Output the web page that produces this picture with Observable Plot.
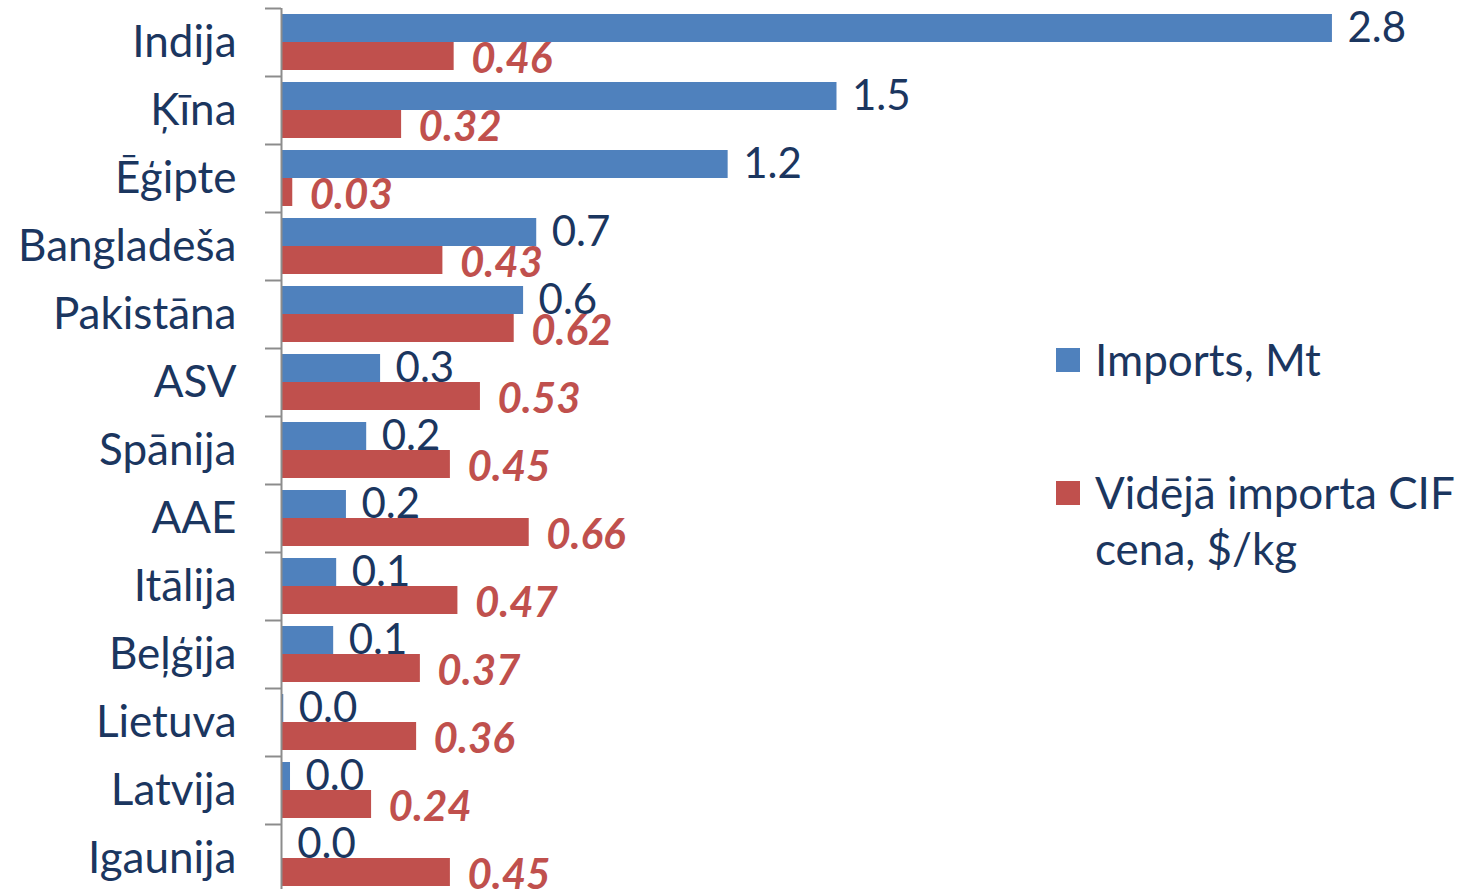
<!DOCTYPE html>
<html>
<head>
<meta charset="utf-8">
<script src="https://cdn.jsdelivr.net/npm/d3@7"></script>
<script src="https://cdn.jsdelivr.net/npm/@observablehq/plot@0.6"></script>
<style>
  html, body { margin: 0; padding: 0; overflow: hidden; background: #fff; }
  #wrap { position: relative; width: 1461px; height: 889px; overflow: hidden; }
  #wrap svg { display: block; }
  .legend { position: absolute; left: 1056px; font-family: Lato, "Open Sans", sans-serif; font-size: 44px; color: #1B365F; line-height: 56px; }
  .legend .item { position: absolute; left: 0; display: flex; align-items: flex-start; white-space: nowrap; }
  .legend .sw { width: 24px; height: 24px; margin-top: 17px; margin-right: 15px; flex: none; }
</style>
</head>
<body>
<div id="wrap"></div>
<script>
const countries = ["Indija", "Ķīna", "Ēģipte", "Bangladeša", "Pakistāna", "ASV", "Spānija", "AAE", "Itālija", "Beļģija", "Lietuva", "Latvija", "Igaunija"];
const imports = [2.80, 1.48, 1.19, 0.68, 0.645, 0.264, 0.227, 0.173, 0.147, 0.139, 0.006, 0.024, 0.002];
const prices = [0.46, 0.32, 0.03, 0.43, 0.62, 0.53, 0.45, 0.66, 0.47, 0.37, 0.36, 0.24, 0.45];
const seriesNames = ["Imports, Mt", "Vidējā importa CIF<br>cena, $/kg"];
const seriesColors = ["#4F81BD", "#C0504D"];

const textColor = "#1B365F";
const labelSize = 44;
const valueSize = 42;
const bandH = 68;
const data = countries.map((c, i) => ({country: c, imports: imports[i], price: prices[i]}));
const fmt1 = d3.format(".1f");
const fmt2 = d3.format(".2f");

const chart = Plot.plot({
  width: 1461,
  height: 8 + bandH * countries.length,
  marginTop: 8,
  marginBottom: 0,
  marginLeft: 281,
  marginRight: 54,
  style: {fontFamily: "Lato, 'Open Sans', sans-serif", background: "white", overflow: "visible"},
  x: {domain: [0, 3], axis: null},
  y: {domain: countries, padding: 0, axis: null},
  marks: [
    Plot.barX(data, {x: "imports", y: "country", fill: seriesColors[0], insetTop: 6, insetBottom: bandH / 2}),
    Plot.barX(data, {x: "price", y: "country", fill: seriesColors[1], insetTop: bandH / 2, insetBottom: 6}),
    Plot.ruleX([0], {stroke: "#8C8C8C", strokeWidth: 2}),
    Plot.ruleY(countries, {y: d => d, x1: 0, x2: 0, insetLeft: -16, dy: -bandH / 2, stroke: "#8C8C8C", strokeWidth: 2}),
    Plot.axisY({tickSize: 0, tickPadding: 45, fontSize: labelSize, color: textColor, label: null}),
    Plot.text(data, {x: "imports", y: "country", text: d => fmt1(d.imports), textAnchor: "start", dx: 15, dy: -14, fontSize: valueSize, fill: textColor}),
    Plot.text(data, {x: "price", y: "country", text: d => fmt2(d.price), textAnchor: "start", dx: 17, dy: 17, fontSize: valueSize, fill: seriesColors[1], fontWeight: "bold", fontStyle: "italic"})
  ]
});
const wrap = document.getElementById("wrap");
wrap.appendChild(chart);

const legend = document.createElement("div");
legend.className = "legend";
const tops = [331, 464];
seriesNames.forEach((name, i) => {
  const item = document.createElement("div");
  item.className = "item";
  item.style.top = tops[i] + "px";
  item.innerHTML = `<div class="sw" style="background:${seriesColors[i]}"></div><div>${name}</div>`;
  legend.appendChild(item);
});
legend.style.top = "0px";
wrap.appendChild(legend);
</script>
</body>
</html>
